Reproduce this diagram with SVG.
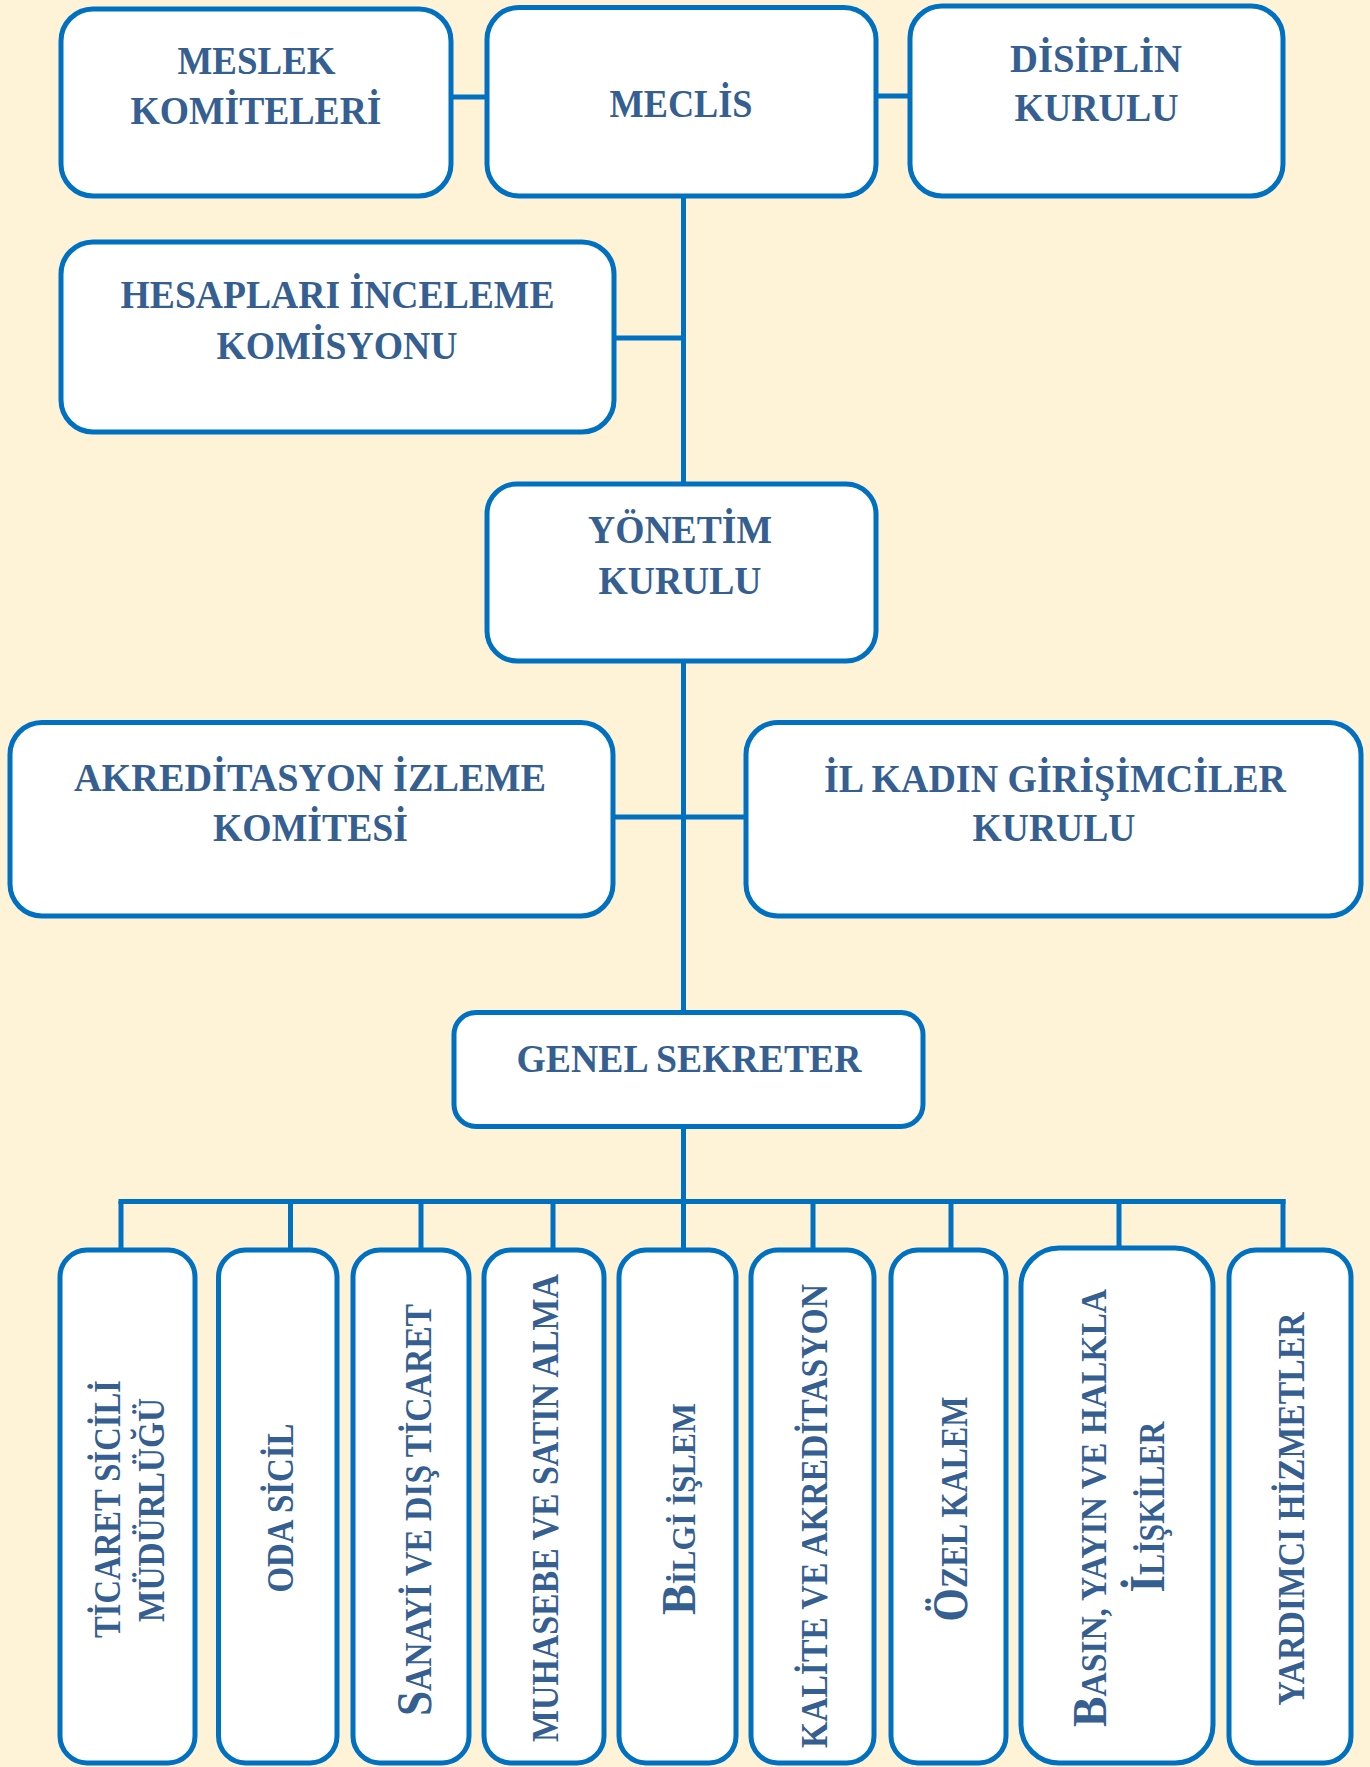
<svg xmlns="http://www.w3.org/2000/svg" width="1370" height="1767" viewBox="0 0 1370 1767">
<style>
.bg{fill:#FEF2D7}
.box{fill:#FFFFFF;stroke:#0070C0;stroke-width:5}
.ln{stroke:#0070C0;stroke-width:5;fill:none}
.t{font-family:"Liberation Serif","Times New Roman",serif;font-weight:bold;fill:#365F91;text-anchor:middle;font-size:40px}
.v{font-family:"Liberation Serif","Times New Roman",serif;font-weight:bold;fill:#365F91;text-anchor:middle;font-size:38px}
</style>
<rect class="bg" x="0" y="0" width="1370" height="1767"/>
<g id="connectors">
<line class="ln" x1="451" y1="97" x2="487" y2="97"/>
<line class="ln" x1="876" y1="96" x2="910" y2="96"/>
<line class="ln" x1="683.5" y1="196" x2="683.5" y2="484"/>
<line class="ln" x1="614" y1="338" x2="683.5" y2="338"/>
<line class="ln" x1="683.5" y1="661" x2="683.5" y2="1012"/>
<line class="ln" x1="613" y1="817" x2="746" y2="817"/>
<line class="ln" x1="683.5" y1="1126" x2="683.5" y2="1249"/>
<line class="ln" x1="118.5" y1="1201.5" x2="1285.5" y2="1201.5"/>
<line class="ln" x1="121" y1="1201" x2="121" y2="1249"/>
<line class="ln" x1="290.5" y1="1201" x2="290.5" y2="1249"/>
<line class="ln" x1="421" y1="1201" x2="421" y2="1249"/>
<line class="ln" x1="553" y1="1201" x2="553" y2="1249"/>
<line class="ln" x1="813" y1="1201" x2="813" y2="1249"/>
<line class="ln" x1="951" y1="1201" x2="951" y2="1249"/>
<line class="ln" x1="1119" y1="1201" x2="1119" y2="1248"/>
<line class="ln" x1="1283" y1="1199" x2="1283" y2="1249"/>
</g>
<g id="meslek">
<rect class="box" x="61" y="9" width="390" height="187" rx="32"/>
<text class="t" x="256.5" y="74" textLength="158" lengthAdjust="spacingAndGlyphs">MESLEK</text>
<text class="t" x="256" y="124" textLength="251" lengthAdjust="spacingAndGlyphs">KOMİTELERİ</text>
</g>
<g id="meclis">
<rect class="box" x="487" y="7.5" width="389" height="188.5" rx="32"/>
<text class="t" x="681" y="117" textLength="143" lengthAdjust="spacingAndGlyphs">MECLİS</text>
</g>
<g id="disiplin">
<rect class="box" x="910" y="6" width="373" height="190" rx="32"/>
<text class="t" x="1096" y="72" textLength="172" lengthAdjust="spacingAndGlyphs">DİSİPLİN</text>
<text class="t" x="1096.5" y="121" textLength="164" lengthAdjust="spacingAndGlyphs">KURULU</text>
</g>
<g id="hesaplari">
<rect class="box" x="61" y="242" width="553" height="190" rx="32"/>
<text class="t" x="337.5" y="308" textLength="434" lengthAdjust="spacingAndGlyphs">HESAPLARI İNCELEME</text>
<text class="t" x="337" y="359" textLength="241" lengthAdjust="spacingAndGlyphs">KOMİSYONU</text>
</g>
<g id="yonetim">
<rect class="box" x="487" y="484" width="389" height="177" rx="30"/>
<text class="t" x="680" y="543" textLength="184" lengthAdjust="spacingAndGlyphs">YÖNETİM</text>
<text class="t" x="680" y="594" textLength="163" lengthAdjust="spacingAndGlyphs">KURULU</text>
</g>
<g id="akreditasyon">
<rect class="box" x="10" y="722.5" width="603" height="193.5" rx="32"/>
<text class="t" x="310" y="791" textLength="472" lengthAdjust="spacingAndGlyphs">AKREDİTASYON İZLEME</text>
<text class="t" x="310.5" y="841" textLength="195" lengthAdjust="spacingAndGlyphs">KOMİTESİ</text>
</g>
<g id="ilkadin">
<rect class="box" x="746" y="722.5" width="615" height="193.5" rx="32"/>
<text class="t" x="1055" y="792" textLength="462" lengthAdjust="spacingAndGlyphs">İL KADIN GİRİŞİMCİLER</text>
<text class="t" x="1054" y="841" textLength="163" lengthAdjust="spacingAndGlyphs">KURULU</text>
</g>
<g id="genel">
<rect class="box" x="454" y="1012.5" width="469" height="114" rx="22"/>
<text class="t" x="689" y="1072" textLength="345" lengthAdjust="spacingAndGlyphs">GENEL SEKRETER</text>
</g>
<g id="ticaret">
<rect class="box" x="60" y="1250" width="135" height="513" rx="27"/>
<text class="v" transform="translate(120,1509) rotate(-90)" textLength="258" lengthAdjust="spacingAndGlyphs">TİCARET SİCİLİ</text>
<text class="v" transform="translate(164,1510) rotate(-90)" textLength="224" lengthAdjust="spacingAndGlyphs">MÜDÜRLÜĞÜ</text>
</g>
<g id="odasicil">
<rect class="box" x="218.5" y="1250" width="118.5" height="513" rx="27"/>
<text class="v" transform="translate(293,1508) rotate(-90)" textLength="169" lengthAdjust="spacingAndGlyphs">ODA SİCİL</text>
</g>
<g id="sanayi">
<rect class="box" x="353" y="1250" width="116" height="513" rx="27"/>
<text class="v" transform="translate(431,1510) rotate(-90)" textLength="412" lengthAdjust="spacingAndGlyphs"><tspan font-size="51">S</tspan>ANAYİ VE DIŞ TİCARET</text>
</g>
<g id="muhasebe">
<rect class="box" x="484" y="1250" width="120" height="513" rx="27"/>
<text class="v" transform="translate(558,1508) rotate(-90)" textLength="468" lengthAdjust="spacingAndGlyphs">MUHASEBE VE SATIN ALMA</text>
</g>
<g id="bilgi">
<rect class="box" x="619" y="1250" width="117" height="513" rx="27"/>
<text class="v" transform="translate(695,1509) rotate(-90)" textLength="212" lengthAdjust="spacingAndGlyphs"><tspan font-size="48">B</tspan><tspan font-size="33">İLGİ İŞLEM</tspan></text>
</g>
<g id="kalite">
<rect class="box" x="751" y="1250" width="123" height="513" rx="27"/>
<text class="v" transform="translate(827,1516) rotate(-90)" textLength="464" lengthAdjust="spacingAndGlyphs">KALİTE VE AKREDİTASYON</text>
</g>
<g id="ozelkalem">
<rect class="box" x="891" y="1250" width="115" height="513" rx="27"/>
<text class="v" transform="translate(967,1509) rotate(-90)" textLength="225" lengthAdjust="spacingAndGlyphs"><tspan font-size="51">Ö</tspan>ZEL KALEM</text>
</g>
<g id="basin">
<rect class="box" x="1021" y="1248" width="192" height="515" rx="38"/>
<text class="v" transform="translate(1106,1508) rotate(-90)" textLength="438" lengthAdjust="spacingAndGlyphs"><tspan font-size="49">B</tspan><tspan font-size="36">ASIN, YAYIN VE HALKLA</tspan></text>
<text class="v" transform="translate(1164,1507) rotate(-90)" textLength="171" lengthAdjust="spacingAndGlyphs"><tspan font-size="51">İ</tspan><tspan font-size="36">LİŞKİLER</tspan></text>
</g>
<g id="yardimci">
<rect class="box" x="1229" y="1250" width="122" height="513" rx="27"/>
<text class="v" transform="translate(1304,1509) rotate(-90)" textLength="393" lengthAdjust="spacingAndGlyphs">YARDIMCI HİZMETLER</text>
</g>
</svg>
